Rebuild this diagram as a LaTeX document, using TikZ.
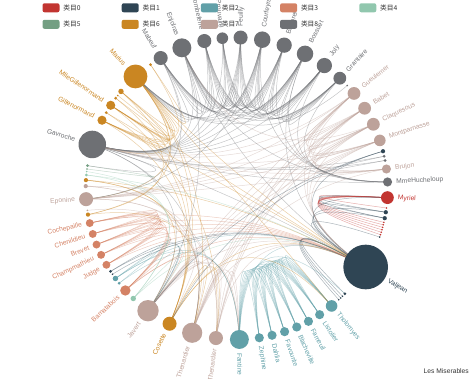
\documentclass[tikz,border=0pt]{standalone}
\usepackage{fontspec}
\setmainfont{Liberation Sans}
\newfontfamily\cjk{Noto Sans CJK SC}
\usetikzlibrary{calc}
\definecolor{cat0}{HTML}{C23531}
\definecolor{cat1}{HTML}{2F4554}
\definecolor{cat2}{HTML}{61A0A8}
\definecolor{cat3}{HTML}{D48265}
\definecolor{cat4}{HTML}{91C7AE}
\definecolor{cat5}{HTML}{749F83}
\definecolor{cat6}{HTML}{CA8622}
\definecolor{cat7}{HTML}{BDA29A}
\definecolor{cat8}{HTML}{6E7074}
\definecolor{ink}{HTML}{333333}
\tikzset{person/.style={circle, inner sep=0pt, minimum size=#1},
  link/.style={line width=0.5pt, opacity=0.4},
  tag/.style={inner sep=0pt, font=\fontsize{6.7}{7}\selectfont},
  key/.style={rounded corners=2pt, minimum width=17pt, minimum height=9pt, inner sep=0pt}}
\def\people{Myriel/19.12/0,Napoleon/2.67/0,MlleBaptistine/6.32/1,MmeMagloire/6.32/1,CountessDeLo/2.67/0,Geborand/2.67/0,Champtercier/2.67/0,Cravatte/2.67/0,Count/2.67/0,OldMan/2.67/0,Labarre/2.67/1,Valjean/66.67/1,Marguerite/4.5/1,MmeDeR/2.67/1,Isabeau/2.67/1,Gervais/2.67/1,Tholomyes/17.3/2,Listolier/13.64/2,Fameuil/13.64/2,Blacheville/13.64/2,Favourite/13.64/2,Dahlia/13.64/2,Zephine/13.64/2,Fantine/28.27/2,MmeThenardier/20.95/7,Thenardier/30.1/7,Cosette/20.95/6,Javert/31.92/7,Fauchelevent/8.15/4,Bamatabois/15.47/3,Perpetue/4.5/2,Simplice/8.15/2,Scaufflaire/2.67/1,Woman1/4.5/1,Judge/11.81/3,Champmathieu/11.81/3,Brevet/11.81/3,Chenildieu/11.81/3,Cochepaille/11.81/3,Pontmercy/6.32/6,Boulatruelle/2.67/7,Eponine/20.95/7,Anzelma/6.32/7,Woman2/6.32/6,MotherInnocent/4.5/4,Gribier/2.67/4,Jondrette/2.67/5,MmeBurgon/4.5/5,Gavroche/41.07/8,Gillenormand/13.64/6,Magnon/4.5/6,MlleGillenormand/13.64/6,MmePontmercy/4.5/6,MlleVaubois/2.67/6,LtGillenormand/8.15/6,Marius/35.58/6,BaronessT/4.5/6,Mabeuf/20.95/8,Enjolras/28.27/8,Combeferre/20.95/8,Prouvaire/17.3/8,Feuilly/20.95/8,Courfeyrac/24.61/8,Bahorel/22.78/8,Bossuet/24.61/8,Joly/22.78/8,Grantaire/19.12/8,MotherPlutarch/2.67/8,Gueulemer/19.12/7,Babet/19.12/7,Claquesous/19.12/7,Montparnasse/17.3/7,Toussaint/6.32/1,Child1/4.5/8,Child2/4.5/8,Brujon/13.64/7,MmeHucheloup/13.64/8}
\def\links{1/0,2/0,3/0,3/2,4/0,5/0,6/0,7/0,8/0,9/0,11/10,11/3,11/2,11/0,12/11,13/11,14/11,15/11,17/16,18/16,18/17,19/16,19/17,19/18,20/16,20/17,20/18,20/19,21/16,21/17,21/18,21/19,21/20,22/16,22/17,22/18,22/19,22/20,22/21,23/16,23/17,23/18,23/19,23/20,23/21,23/22,23/12,23/11,24/23,24/11,25/24,25/23,25/11,26/24,26/11,26/16,26/25,27/11,27/23,27/25,27/24,27/26,28/11,28/27,29/23,29/27,29/11,30/23,31/30,31/11,31/23,31/27,32/11,33/11,33/27,34/11,34/29,35/11,35/34,35/29,36/34,36/35,36/11,36/29,37/34,37/35,37/36,37/11,37/29,38/34,38/35,38/36,38/37,38/11,38/29,39/25,40/25,41/24,41/25,42/41,42/25,42/24,43/11,43/26,43/27,44/28,44/11,45/28,47/46,48/47,48/25,48/27,48/11,49/26,49/11,50/49,50/24,51/49,51/26,51/11,52/51,52/39,53/51,54/51,54/49,54/26,55/51,55/49,55/39,55/54,55/26,55/11,55/16,55/25,55/41,55/48,56/49,56/55,57/55,57/41,57/48,58/55,58/48,58/27,58/57,58/11,59/58,59/55,59/48,59/57,60/48,60/58,60/59,61/48,61/58,61/60,61/59,61/57,61/55,62/55,62/58,62/59,62/48,62/57,62/41,62/61,62/60,63/59,63/48,63/62,63/57,63/58,63/61,63/60,63/55,64/55,64/62,64/48,64/63,64/58,64/61,64/60,64/59,64/57,64/11,65/63,65/64,65/48,65/62,65/58,65/61,65/60,65/59,65/57,65/55,66/64,66/58,66/59,66/62,66/65,66/48,66/63,66/61,66/60,67/57,68/25,68/11,68/24,68/27,68/48,68/41,69/25,69/68,69/11,69/24,69/27,69/48,69/41,70/25,70/69,70/68,70/11,70/24,70/27,70/41,70/58,71/27,71/69,71/68,71/70,71/11,71/48,71/41,71/25,72/26,72/27,72/11,73/48,74/48,74/73,75/69,75/68,75/25,75/48,75/41,75/70,75/71,76/64,76/65,76/66,76/63,76/62,76/48,76/58}
\begin{document}
\begin{tikzpicture}[x=1pt,y=1pt]
\useasboundingbox (0,0) rectangle (474,379);
\def\cx{236.7}\def\cy{190.5}\def\R{151}
\coordinate (hub) at (\cx,\cy);
\xdef\total{0}
\foreach \who/\sz/\grp in \people{\pgfmathsetmacro\tmp{\total+\sz}\xdef\total{\tmp}}
\xdef\cum{0}
\foreach \who/\sz/\grp [count=\i from 0] in \people{
    \pgfmathsetmacro\ang{-(\cum+\sz/2)/\total*360}
    \coordinate (n\i) at ($(hub)+(\ang:\R pt)$);
    \expandafter\xdef\csname grp\i\endcsname{\grp}
    \expandafter\xdef\csname ang\i\endcsname{\ang}
    \pgfmathsetmacro\tmp{\cum+\sz}\xdef\cum{\tmp}
}
\foreach \a/\b in \links{
    \edef\col{cat\csname grp\a\endcsname}
    \coordinate (m) at ($(n\a)!.5!(n\b)$);
    \coordinate (q) at ($(m)!.9!(hub)$);
    \draw[link, draw=\col] (n\a) .. controls ($(n\a)!2/3!(q)$) and ($(n\b)!2/3!(q)$) .. (n\b);
}
\foreach \who/\sz/\grp [count=\i from 0] in \people{
    \pgfmathsetmacro\d{0.67*\sz}
    \edef\ang{\csname ang\i\endcsname}
    \node[person=\d pt, fill=cat\grp] (\who) at (n\i) {};
    \ifdim\sz pt>10pt
        \pgfmathsetmacro\gap{\R+\d/2+4}
        \pgfmathtruncatemacro\side{cos(\ang)<0}
        \ifnum\side=1
            \node[tag, text=cat\grp, anchor=east, rotate=\ang+180] (\who-tag) at ($(hub)+(\ang:\gap pt)$) {\who};
        \else
            \node[tag, text=cat\grp, anchor=west, rotate=\ang] (\who-tag) at ($(hub)+(\ang:\gap pt)$) {\who};
        \fi
    \fi
}
\foreach \k in {0,...,8}{
    \pgfmathtruncatemacro\col{mod(\k,5)}
    \pgfmathtruncatemacro\row{\k/5}
    \node[key, fill=cat\k, anchor=west] (key\k) at (42.3+79.2*\col, 371.2-16.5*\row) {};
    \node[tag, text=ink, anchor=west] (key\k-text) at ([xshift=3.5pt]key\k.east) {\cjk 类目\k};
}
\node[tag, text=ink, anchor=east] (title) at (469,7.7) {Les Miserables};
\end{tikzpicture}
\end{document}
